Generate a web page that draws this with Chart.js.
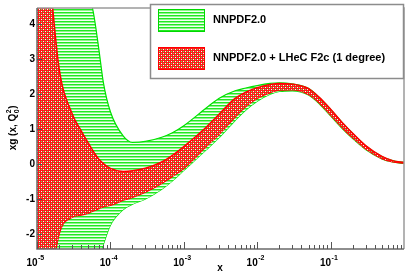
<!DOCTYPE html>
<html lang="en">
<head>
<meta charset="UTF-8">
<title>xg</title>
<script src="https://cdn.jsdelivr.net/npm/chart.js@4.4.0/dist/chart.umd.min.js"></script>
<style>
  html, body { margin: 0; padding: 0; background: #fff; }
</style>
</head>
<body>
<canvas id="myChart" width="407" height="275"></canvas>
<script>
    // x grid (log scale)
    let xs = [1e-5, 1.5e-5, 2e-5, 3e-5, 4e-5, 5e-5, 6e-5, 7e-5, 8e-5, 1e-4, 1.5e-4, 2e-4, 3e-4, 5e-4, 7e-4,
              1e-3, 2e-3, 3e-3, 5e-3, 7e-3, 1e-2, 1.5e-2, 2e-2, 3e-2, 5e-2, 7e-2, 0.1, 0.15, 0.2, 0.3, 0.5, 0.7, 1];

    // NNPDF2.0 band
    let greenUp = [12, 9.5, 8, 6.8, 5.8, 5.0, 4.22, 3.25, 2.35, 1.5, 0.8, 0.62, 0.65, 0.77, 0.9,
                   1.1, 1.6, 1.88, 2.1, 2.18, 2.25, 2.31, 2.33, 2.3, 2.17, 1.91, 1.57, 1.15, 0.88, 0.53, 0.22, 0.1, 0.05];
    let greenLo = [-8, -6.5, -5.5, -4.5, -3.9, -3.4, -3.0, -2.65, -2.3, -1.75, -1.3, -1.15, -1.0, -0.72, -0.48,
                   -0.18, 0.4, 0.75, 1.25, 1.55, 1.8, 2.0, 2.08, 2.1, 1.98, 1.73, 1.38, 0.98, 0.73, 0.42, 0.15, 0.06, 0.02];

    // NNPDF2.0 + LHeC F2c band
    let redUp = [9, 5.3, 2.74, 1.45, 0.95, 0.6, 0.33, 0.13, 0.02, -0.12, -0.21, -0.19, -0.12, 0.06, 0.25,
                 0.5, 1.05, 1.42, 1.88, 2.06, 2.19, 2.28, 2.31, 2.29, 2.16, 1.91, 1.57, 1.15, 0.88, 0.53, 0.22, 0.1, 0.05];
    let redLo = [-6, -3.5, -2.0, -1.52, -1.46, -1.4, -1.33, -1.27, -1.22, -1.18, -1.03, -0.95, -0.8, -0.55, -0.35,
                 -0.12, 0.5, 0.85, 1.35, 1.65, 1.88, 2.05, 2.12, 2.13, 2.0, 1.76, 1.41, 1.01, 0.76, 0.44, 0.16, 0.07, 0.03];

    let xTicks = [1e-5, 1e-4, 1e-3, 1e-2, 1e-1];
    let xTickExp = ['-5', '-4', '-3', '-2', '-1'];
    let yTicks = [-2, -1, 0, 1, 2, 3, 4];
    let legendLabels = ['NNPDF2.0', 'NNPDF2.0 + LHeC F2c (1 degree)'];

    function pts(ys) { return xs.map((x, i) => ({ x: x, y: ys[i] })); }

    // hatch patterns
    function makePattern(w, h, fn) {
        let c = document.createElement('canvas');
        c.width = w; c.height = h;
        let g = c.getContext('2d');
        for (let y = 0; y < h; y++) for (let x = 0; x < w; x++) {
            g.fillStyle = fn(x, y);
            g.fillRect(x, y, 1, 1);
        }
        return g.createPattern(c, 'repeat');
    }
    let greenHatch = makePattern(1, 3, (x, y) => ['#22e822', '#8af88a', '#f2fff2'][y]);
    let redHatch = makePattern(4, 4, (x, y) => {
        if (x % 2 === 1 && y % 2 === 1) return ((x + y) / 2) % 2 ? '#60f060' : '#ffffff';
        return '#ff1818';
    });

    const FAM = '"Liberation Sans", Arial, sans-serif';

    let decor = {
        id: 'decor',
        afterDatasetsDraw(chart) {
            let ctx = chart.ctx, a = chart.chartArea;
            let sx = chart.scales.x, sy = chart.scales.y;
            ctx.save();
            // frame
            ctx.strokeStyle = '#9a9a9a';
            ctx.lineWidth = 1.5;
            ctx.beginPath();
            ctx.moveTo(a.left, a.top); ctx.lineTo(a.right, a.top); ctx.lineTo(a.right, a.bottom);
            ctx.stroke();
            ctx.strokeStyle = '#6a6a6a';
            ctx.beginPath();
            ctx.moveTo(a.left, a.top); ctx.lineTo(a.left, a.bottom); ctx.lineTo(a.right, a.bottom);
            ctx.stroke();
            // x ticks (inward)
            ctx.lineWidth = 1;
            ctx.strokeStyle = '#555';
            ctx.beginPath();
            for (let d = -5; d < 0; d++) {
                for (let m = 1; m < 10; m++) {
                    let v = m * Math.pow(10, d);
                    let px = Math.round(sx.getPixelForValue(v)) + 0.5;
                    let len = m === 1 ? 7 : 4;
                    ctx.moveTo(px, a.bottom); ctx.lineTo(px, a.bottom - len);
                }
            }
            // y ticks
            yTicks.forEach(v => {
                let py = Math.round(sy.getPixelForValue(v)) + 0.5;
                ctx.moveTo(a.left, py); ctx.lineTo(a.left + 5, py);
            });
            ctx.stroke();

            // x tick labels 10^n
            ctx.fillStyle = '#000';
            ctx.textBaseline = 'alphabetic';
            xTicks.forEach((v, i) => {
                let px = sx.getPixelForValue(v);
                ctx.font = 'bold 10px ' + FAM;
                ctx.textAlign = 'right';
                ctx.fillText('10', px + 0.5, 266);
                ctx.font = 'bold 7px ' + FAM;
                ctx.textAlign = 'left';
                ctx.fillText(xTickExp[i], px + 1, 260);
            });

            // axis titles
            ctx.font = 'bold 10px ' + FAM;
            ctx.textAlign = 'center';
            ctx.textBaseline = 'middle';
            ctx.fillText('x', 220, 268);
            ctx.translate(12, 127);
            ctx.rotate(-Math.PI / 2);
            ctx.textAlign = 'left';
            ctx.textBaseline = 'alphabetic';
            let t1 = 'xg (x, Q';
            let w1 = ctx.measureText(t1).width;
            let x0 = -(w1 + 10) / 2;
            ctx.fillText(t1, x0, 4);
            ctx.font = 'bold 7px ' + FAM;
            ctx.fillText('2', x0 + w1 + 0.5, -1);
            ctx.fillText('0', x0 + w1 + 0.5, 7);
            ctx.font = 'bold 10px ' + FAM;
            ctx.fillText(')', x0 + w1 + 5, 4);
            ctx.restore();

            // legend
            ctx.save();
            let L = 150, T = 4, R = 403, B = 78;
            ctx.fillStyle = '#fff';
            ctx.fillRect(L, T, R - L, B - T);
            ctx.strokeStyle = '#8c8c8c';
            ctx.lineWidth = 1.5;
            ctx.strokeRect(L + 0.5, T + 0.5, R - L, B - T);
            let rows = [
                { fill: greenHatch, line: '#00d800', y: 20 },
                { fill: redHatch, line: '#ff0000', y: 58 }
            ];
            rows.forEach((r, i) => {
                ctx.fillStyle = r.fill;
                ctx.fillRect(158, r.y - 11, 47, 23);
                ctx.strokeStyle = r.line;
                ctx.lineWidth = 1;
                ctx.strokeRect(158.5, r.y - 10.5, 46, 22);
                ctx.fillStyle = '#000';
                ctx.font = 'bold 11px ' + FAM;
                ctx.textAlign = 'left';
                ctx.textBaseline = 'middle';
                ctx.fillText(legendLabels[i], 213, r.y);
            });
            ctx.restore();
        }
    };

    // Chart.js draws dataset 0 last (on top), so the red band comes first
    let myChart = document.getElementById('myChart').getContext('2d');
    let bandChart = new Chart(myChart, {
        type: 'line',
        data: {
            datasets: [{
                data: pts(redUp),
                borderColor: '#ff0000',
                borderWidth: 1.5,
                backgroundColor: redHatch,
                fill: '+1',
                clip: 0
            }, {
                data: pts(redLo),
                borderColor: '#ff0000',
                borderWidth: 1.5,
                fill: false,
                clip: 0
            }, {
                data: pts(greenUp),
                borderColor: '#00e000',
                borderWidth: 1.2,
                backgroundColor: greenHatch,
                fill: '+1',
                clip: 0
            }, {
                data: pts(greenLo),
                borderColor: '#00e000',
                borderWidth: 1.2,
                fill: false,
                clip: 0
            }]
        },
        options: {
            responsive: false,
            animation: false,
            devicePixelRatio: 1,
            layout: { padding: { top: 2, right: 3, left: 0, bottom: 0 } },
            elements: { point: { radius: 0 }, line: { cubicInterpolationMode: 'monotone' } },
            plugins: { legend: { display: false }, tooltip: { enabled: false } },
            scales: {
                x: {
                    type: 'logarithmic',
                    min: 1e-5,
                    max: 1,
                    grid: { display: false, drawTicks: false },
                    border: { display: false },
                    afterFit(s) { s.height = 26; },
                    afterBuildTicks(s) { s.ticks = xTicks.map(v => ({ value: v, major: true })); },
                    ticks: { display: false }
                },
                y: {
                    min: -2.43,
                    max: 4.47,
                    grid: { display: false, drawTicks: false },
                    border: { display: false },
                    afterFit(s) { s.width = 37; },
                    afterBuildTicks(s) { s.ticks = yTicks.map(v => ({ value: v })); },
                    ticks: {
                        padding: 2,
                        color: '#000',
                        font: { family: FAM, size: 10, weight: 'bold' }
                    }
                }
            }
        },
        plugins: [decor]
    });
</script>
</body>
</html>
